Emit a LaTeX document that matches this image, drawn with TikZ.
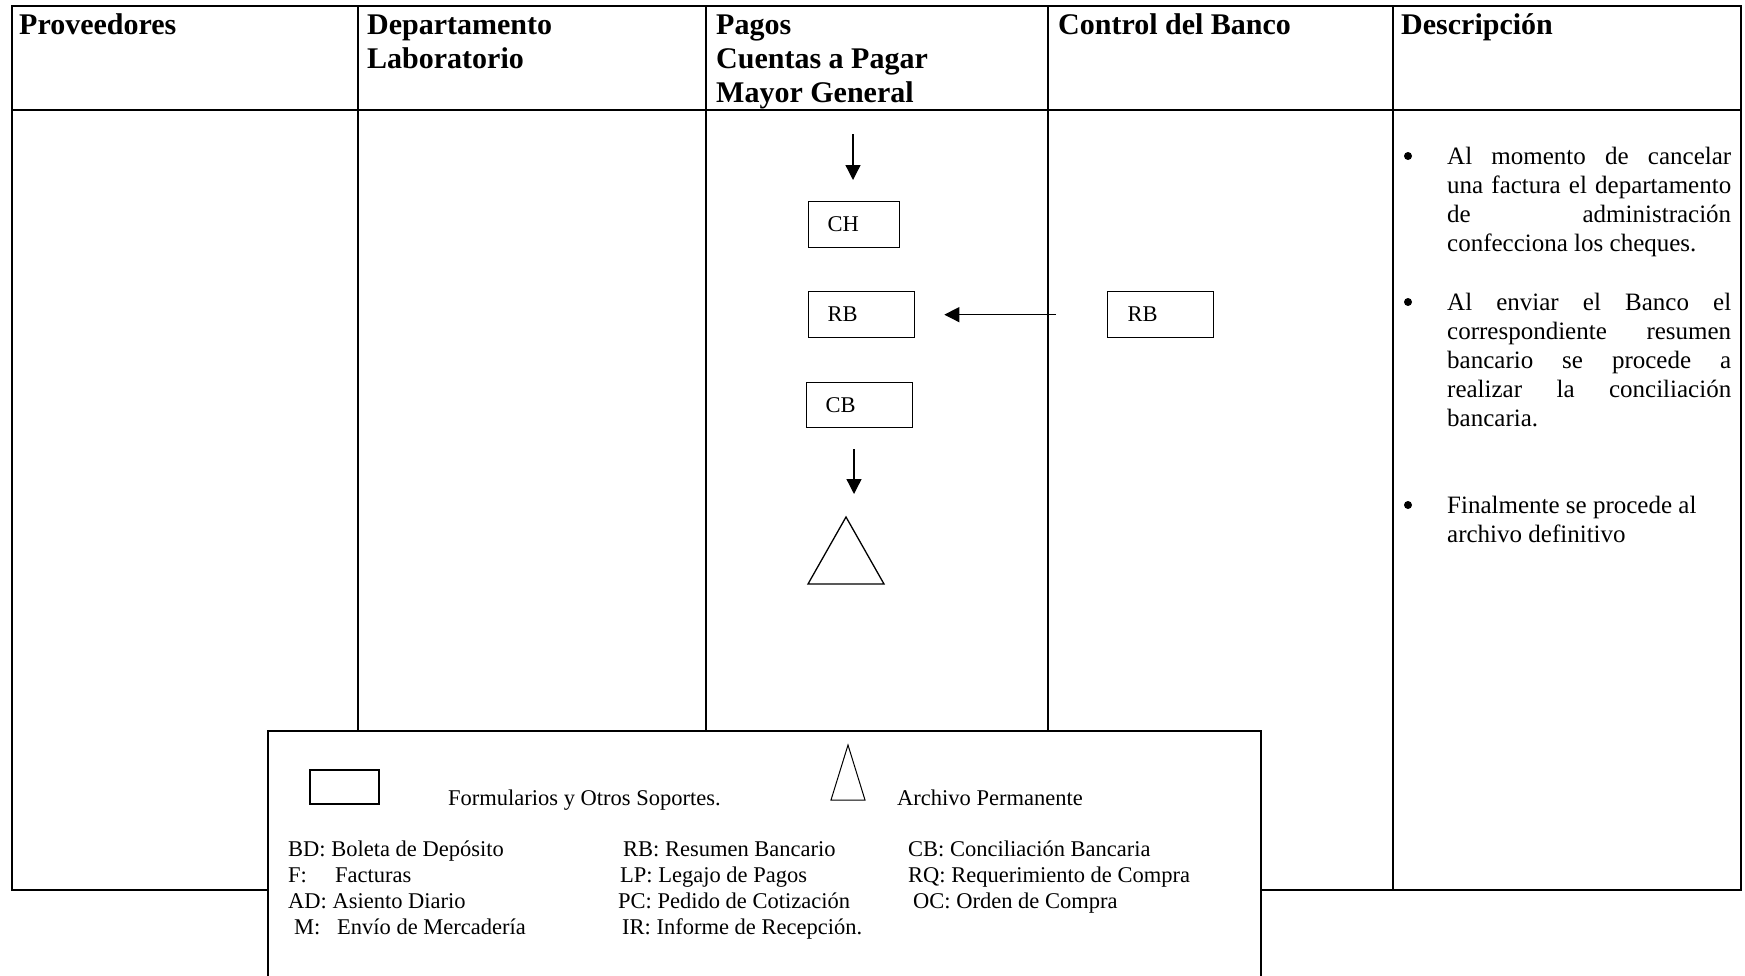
\documentclass[tikz,border=0pt]{standalone}
\usepackage{fontspec}
\setmainfont{Liberation Serif}
\usetikzlibrary{arrows.meta}
\newcommand\hdfont{\fontsize{30}{33.5}\selectfont\bfseries}
\newcommand\dsfont{\fontsize{25}{29}\selectfont}
\newcommand\lgfont{\fontsize{22.5}{26}\selectfont}
\begin{document}
\begin{tikzpicture}[x=1pt,y=-1pt,
 tbl/.style={line width=2pt},
 box/.style={draw, line width=1.3pt, inner sep=0pt, anchor=north west, font=\lgfont},
 arr/.style={line width=1.3pt, -{Triangle[length=15pt,width=15pt]}},
 hd/.style={anchor=base west, inner sep=0pt, font=\hdfont},
 ds/.style={anchor=base west, inner sep=0pt, font=\dsfont},
 bul/.style={circle, fill=black, inner sep=0pt, minimum size=8pt},
 lg/.style={anchor=base west, inner sep=0pt, font=\lgfont}]
\clip (0,0) rectangle (1745,975);
\fill[white] (0,0) rectangle (1745,975);
% table frame
\draw[tbl] (12,6) rectangle (1741,890);
\draw[tbl] (12,110) -- (1741,110);
\foreach \x in {358,706,1048,1393} \draw[tbl] (\x,6) -- (\x,890);
% headers
\node[hd] (h1) at (19,34) {Proveedores};
\node[hd] (h2) at (367,34) {Departamento};
\node[hd] (h2b) at (367,68) {Laboratorio};
\node[hd] (h3) at (716,34) {Pagos};
\node[hd] (h3b) at (716,68) {Cuentas a Pagar};
\node[hd] (h3c) at (716,102) {Mayor General};
\node[hd] (h4) at (1058,34) {Control del Banco};
\node[hd] (h5) at (1401,34) {Descripción};
% flow boxes
\node[box, minimum height=46pt] (CH) at (808,201) {\makebox[91pt][l]{\hspace{19pt}CH}};
\node[box, minimum height=46pt] (RB1) at (808,291) {\makebox[106pt][l]{\hspace{19pt}RB}};
\node[box, minimum height=46pt] (RB2) at (1107,291) {\makebox[106pt][l]{\hspace{20pt}RB}};
\node[box, minimum height=45pt] (CB) at (806,382) {\makebox[106pt][l]{\hspace{19pt}CB}};
% arrows
\coordinate (a1) at (853,134);
\draw[arr, shorten >=21pt] (a1) -- (a1 |- CH.north);
\draw[arr, shorten <=51pt, shorten >=29pt] (RB2.west) -- (RB1.east);
\coordinate (Tap) at (846,517);
\coordinate (Tl) at (808,584);
\coordinate (Tr) at (884,584);
\coordinate (a2) at (854,449);
\draw[arr, shorten >=23pt] (a2) -- (a2 |- Tap);
\draw[line width=1.3pt] (Tap) -- (Tr) -- (Tl) -- cycle;
% description
\node[bul] (b1) at (1408,156) {};
\node[ds] (d1a) at (1447,164) {\makebox[284pt][s]{Al momento de cancelar}};
\node[ds] (d1b) at (1447,193) {\makebox[284pt][s]{una factura el departamento}};
\node[ds] (d1c) at (1447,222) {\makebox[284pt][s]{de administración}};
\node[ds] (d1d) at (1447,251) {confecciona los cheques.};
\node[bul] (b2) at (1408,302) {};
\node[ds] (d2a) at (1447,310) {\makebox[284pt][s]{Al enviar el Banco el}};
\node[ds] (d2b) at (1447,339) {\makebox[284pt][s]{correspondiente resumen}};
\node[ds] (d2c) at (1447,368) {\makebox[284pt][s]{bancario se procede a}};
\node[ds] (d2d) at (1447,397) {\makebox[284pt][s]{realizar la conciliación}};
\node[ds] (d2e) at (1447,426) {bancaria.};
\node[bul] (b3) at (1408,505) {};
\node[ds] (d3a) at (1447,513) {Finalmente se procede al};
\node[ds] (d3b) at (1447,542) {archivo definitivo};
% legend
\draw[line width=1.5pt, fill=white] (268,731) rectangle (1261,1000);
\draw[line width=2pt] (310,770) rectangle (379,804);
\draw[line width=1pt] (848,745) -- (865,800) -- (831,800) -- cycle;
\node[lg] (lf) at (448,805) {Formularios y Otros Soportes.};
\node[lg] (la) at (897,805) {Archivo Permanente};
\node[lg] (l1a) at (288,856) {BD: Boleta de Depósito};
\node[lg] (l1b) at (288,882) {F:};
\node[lg] (l1b2) at (335,882) {Facturas};
\node[lg] (l1c) at (288,908) {AD: Asiento Diario};
\node[lg] (l1d) at (294,934) {M:};
\node[lg] (l1d2) at (337,934) {Envío de Mercadería};
\node[lg] (l2a) at (623,856) {RB: Resumen Bancario};
\node[lg] (l2b) at (620,882) {LP: Legajo de Pagos};
\node[lg] (l2c) at (618,908) {PC: Pedido de Cotización};
\node[lg] (l2d) at (622,934) {IR: Informe de Recepción.};
\node[lg] (l3a) at (908,856) {CB: Conciliación Bancaria};
\node[lg] (l3b) at (908,882) {RQ: Requerimiento de Compra};
\node[lg] (l3c) at (913,908) {OC: Orden de Compra};
\end{tikzpicture}
\end{document}
